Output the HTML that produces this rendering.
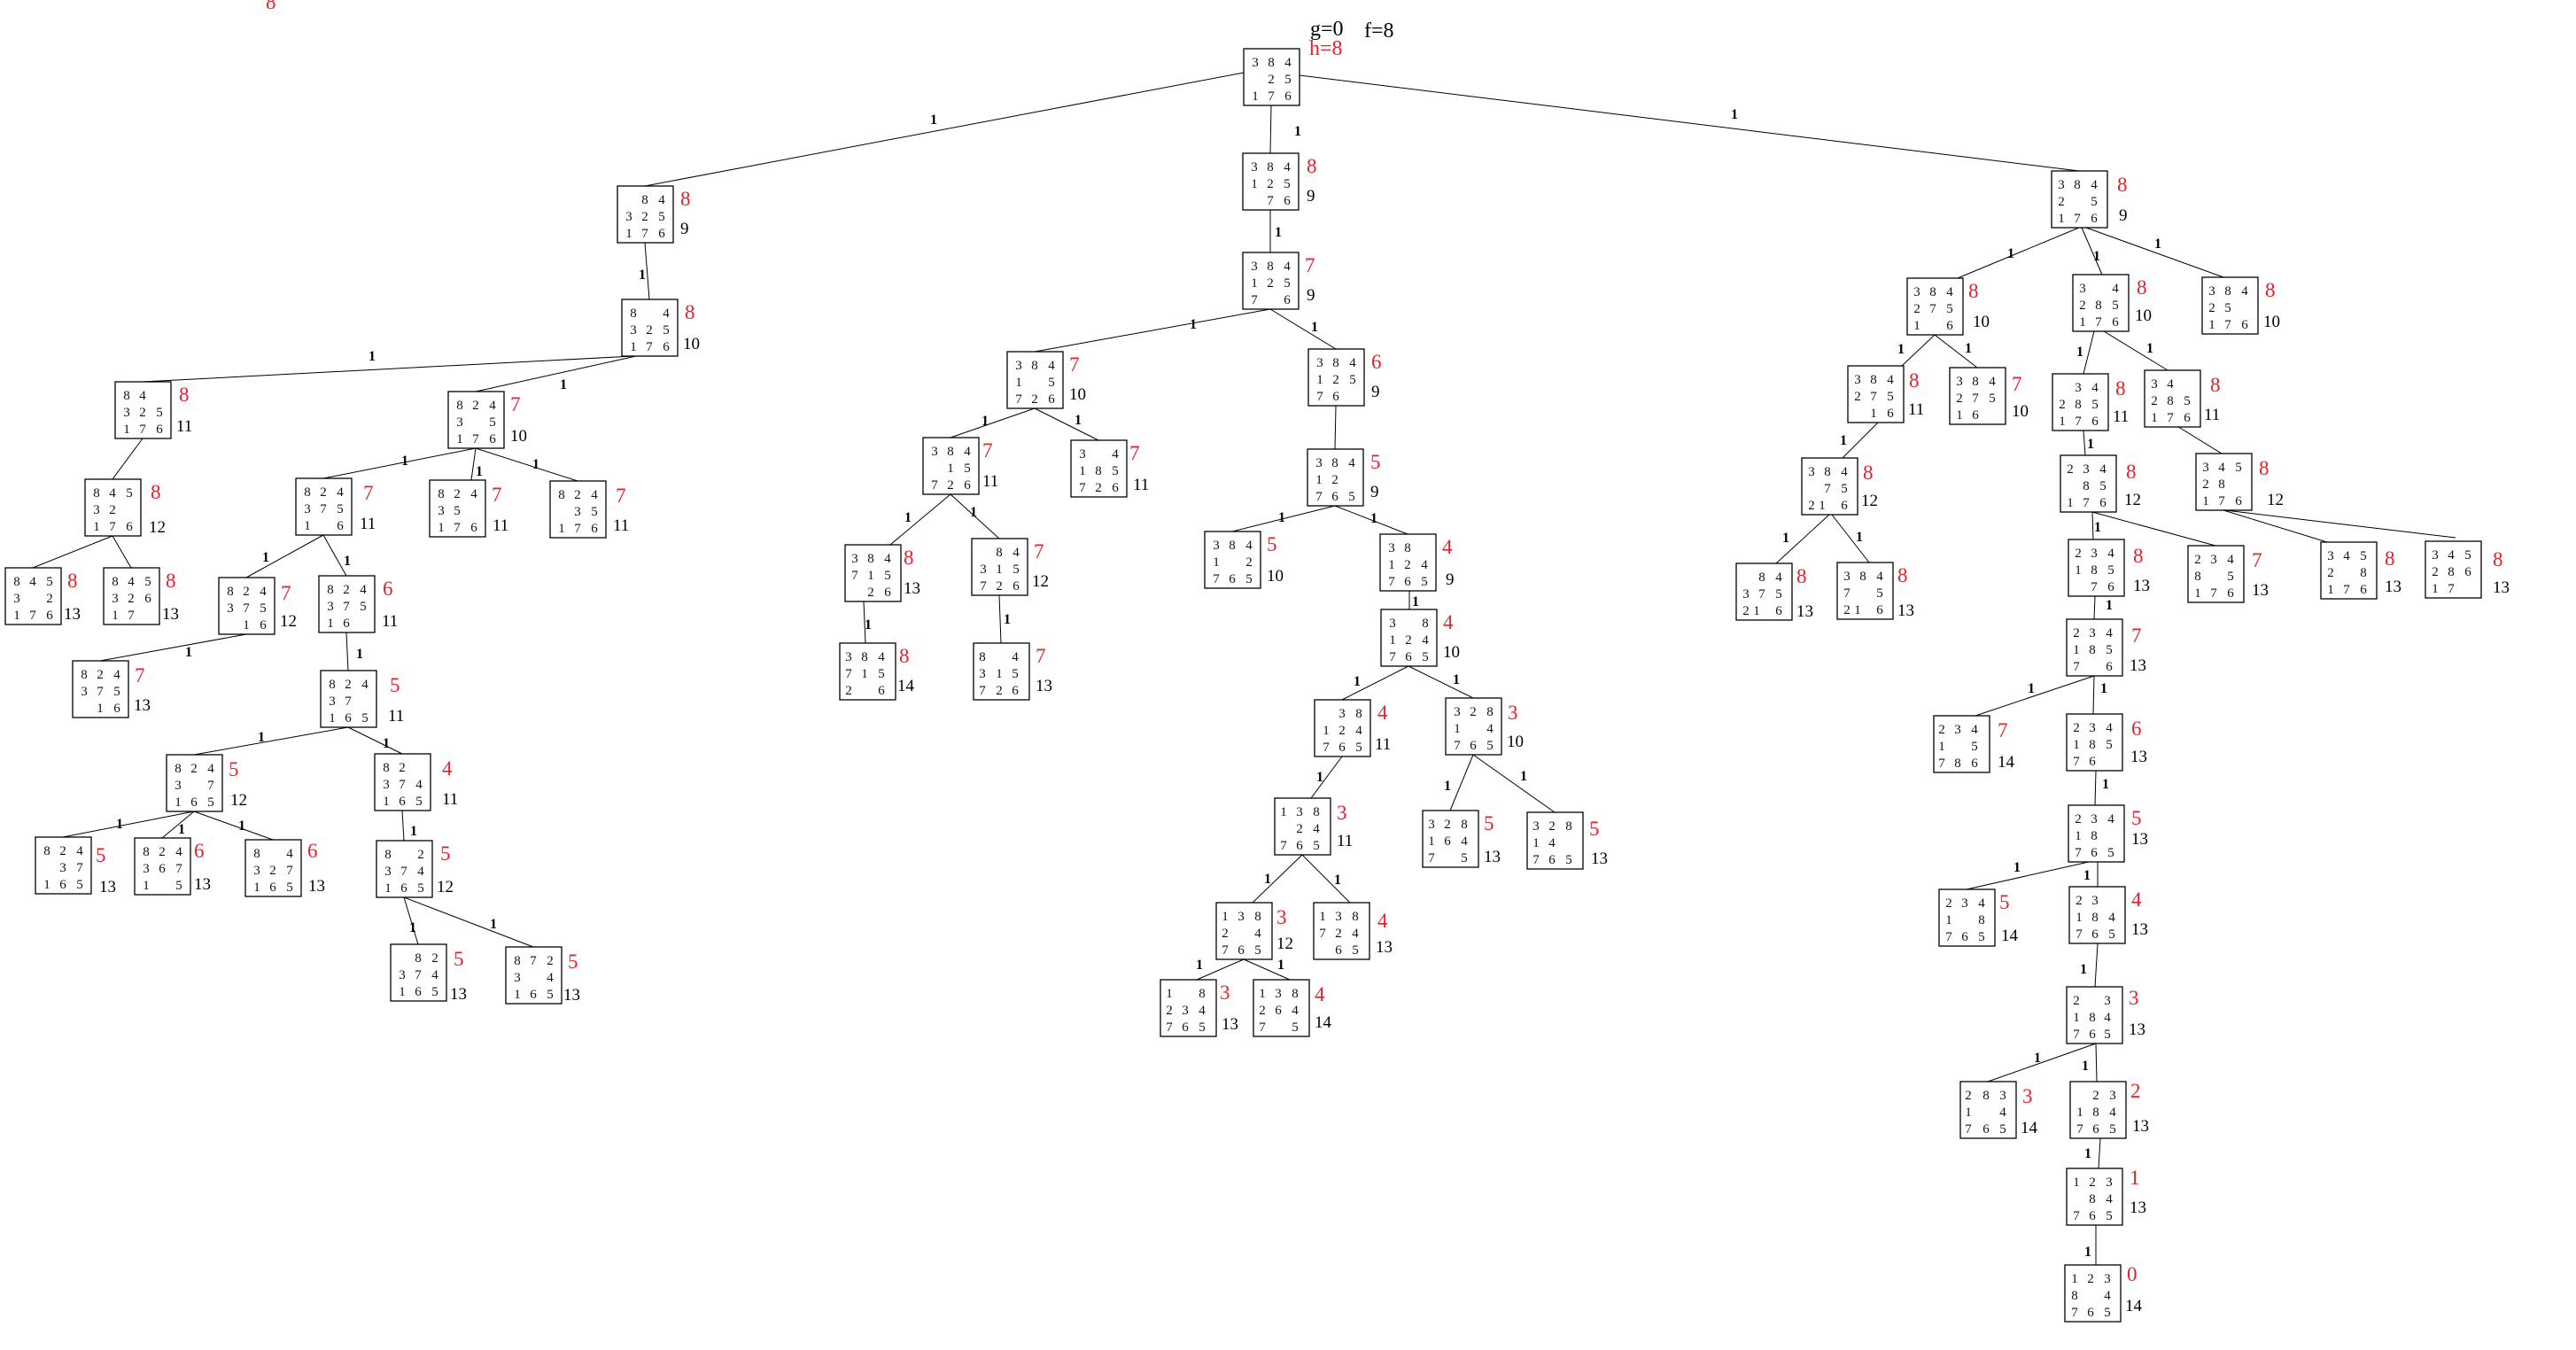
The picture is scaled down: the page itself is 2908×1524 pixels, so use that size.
<!DOCTYPE html>
<html><head><meta charset="utf-8"><style>
html,body{margin:0;padding:0;background:#fff}
svg{display:block}
.b{fill:#fff;stroke:#000;stroke-width:1.3}
.d{font-family:"Liberation Serif",serif;font-size:15px;fill:#111;text-anchor:middle}
.h{font-family:"Liberation Serif",serif;font-size:23px;fill:#e8202a}
.f{font-family:"Liberation Serif",serif;font-size:19px;fill:#000}
.e{stroke:#000;stroke-width:1;fill:none}
.l{font-family:"Liberation Serif",serif;font-size:16px;font-weight:bold;fill:#000;text-anchor:middle}
</style></head><body>
<svg width="2908" height="1524" viewBox="0 0 2908 1524" xmlns="http://www.w3.org/2000/svg">
<text x="300" y="10" style="font-family:'Liberation Serif',serif;font-size:23px;fill:#e8202a">8</text>
<text x="1479" y="40" style="font-family:'Liberation Serif',serif;font-size:24px">g=0</text>
<text x="1540" y="42" style="font-family:'Liberation Serif',serif;font-size:24px">f=8</text>
<text x="1478" y="62" style="font-family:'Liberation Serif',serif;font-size:24px;fill:#e8202a">h=8</text>

<g class="e">
<line x1="1404" y1="82" x2="728" y2="210"/><line x1="1435" y1="119" x2="1434" y2="173"/><line x1="1467" y1="85" x2="2347" y2="193"/>
<line x1="728" y1="274" x2="733" y2="338"/><line x1="715" y1="402" x2="161" y2="431"/><line x1="718" y1="402" x2="537" y2="442"/>
<line x1="161" y1="495" x2="127" y2="541"/><line x1="127" y1="605" x2="37" y2="641"/><line x1="127" y1="605" x2="148" y2="641"/>
<line x1="537" y1="506" x2="365" y2="540"/><line x1="537" y1="506" x2="532" y2="542"/><line x1="537" y1="506" x2="652" y2="543"/>
<line x1="365" y1="604" x2="278" y2="652"/><line x1="365" y1="604" x2="391" y2="650"/><line x1="278" y1="716" x2="113" y2="746"/>
<line x1="391" y1="714" x2="393" y2="757"/><line x1="393" y1="821" x2="219" y2="852"/><line x1="393" y1="821" x2="454" y2="851"/>
<line x1="219" y1="916" x2="71" y2="945"/><line x1="219" y1="916" x2="183" y2="946"/><line x1="219" y1="916" x2="308" y2="948"/>
<line x1="454" y1="915" x2="456" y2="949"/><line x1="456" y1="1013" x2="472" y2="1066"/><line x1="456" y1="1013" x2="602" y2="1069"/>
<line x1="1434" y1="237" x2="1434" y2="285"/><line x1="1434" y1="349" x2="1168" y2="397"/><line x1="1434" y1="349" x2="1508" y2="394"/>
<line x1="1168" y1="461" x2="1073" y2="494"/><line x1="1168" y1="461" x2="1240" y2="497"/><line x1="1508" y1="458" x2="1507" y2="507"/>
<line x1="1073" y1="558" x2="1005" y2="615"/><line x1="1073" y1="558" x2="1128" y2="608"/>
<line x1="1507" y1="571" x2="1391" y2="600"/><line x1="1507" y1="571" x2="1589" y2="603"/>
<line x1="975" y1="679" x2="977" y2="726"/><line x1="1128" y1="672" x2="1130" y2="726"/><line x1="1591" y1="667" x2="1591" y2="688"/>
<line x1="1590" y1="752" x2="1515" y2="790"/><line x1="1590" y1="752" x2="1663" y2="788"/>
<line x1="1515" y1="854" x2="1480" y2="901"/><line x1="1663" y1="852" x2="1637" y2="915"/><line x1="1663" y1="852" x2="1755" y2="917"/>
<line x1="1470" y1="965" x2="1414" y2="1019"/><line x1="1470" y1="965" x2="1524" y2="1019"/>
<line x1="1404" y1="1083" x2="1351" y2="1106"/><line x1="1404" y1="1083" x2="1456" y2="1106"/>
<line x1="2347" y1="257" x2="2210" y2="314"/><line x1="2350" y1="257" x2="2373" y2="310"/><line x1="2355" y1="257" x2="2510" y2="313"/>
<line x1="2184" y1="378" x2="2147" y2="413"/><line x1="2184" y1="378" x2="2232" y2="415"/>
<line x1="2364" y1="374" x2="2352" y2="422"/><line x1="2375" y1="374" x2="2447" y2="418"/>
<line x1="2120" y1="477" x2="2080" y2="517"/><line x1="2352" y1="486" x2="2354" y2="514"/>
<line x1="2456" y1="480" x2="2508" y2="512"/>
<line x1="2065" y1="581" x2="2005" y2="636"/><line x1="2068" y1="581" x2="2110" y2="635"/>
<line x1="2362" y1="578" x2="2363" y2="609"/><line x1="2362" y1="578" x2="2501" y2="616"/>
<line x1="2510" y1="576" x2="2627" y2="612"/><line x1="2512" y1="576" x2="2772" y2="607"/>
<line x1="2365" y1="673" x2="2364" y2="699"/><line x1="2364" y1="763" x2="2230" y2="808"/><line x1="2364" y1="763" x2="2363" y2="806"/>
<line x1="2366" y1="870" x2="2365" y2="909"/><line x1="2358" y1="973" x2="2220" y2="1004"/><line x1="2368" y1="973" x2="2368" y2="1001"/>
<line x1="2368" y1="1065" x2="2365" y2="1114"/><line x1="2366" y1="1178" x2="2244" y2="1221"/><line x1="2366" y1="1178" x2="2367" y2="1221"/>
<line x1="2371" y1="1285" x2="2369" y2="1319"/><line x1="2366" y1="1383" x2="2366" y2="1428"/>
</g>

<g>
<text class="l" x="1054" y="140">1</text><text class="l" x="1465" y="153">1</text><text class="l" x="1958" y="134">1</text>
<text class="l" x="725" y="315">1</text><text class="l" x="420" y="407">1</text><text class="l" x="636" y="439">1</text>
<text class="l" x="457" y="525">1</text><text class="l" x="541" y="537">1</text><text class="l" x="605" y="529">1</text>
<text class="l" x="300" y="634">1</text><text class="l" x="392" y="638">1</text><text class="l" x="213" y="741">1</text>
<text class="l" x="406" y="743">1</text><text class="l" x="295" y="837">1</text><text class="l" x="436" y="844">1</text>
<text class="l" x="135" y="935">1</text><text class="l" x="205" y="941">1</text><text class="l" x="273" y="937">1</text>
<text class="l" x="467" y="943">1</text><text class="l" x="466" y="1052">1</text><text class="l" x="557" y="1048">1</text>
<text class="l" x="1443" y="267">1</text><text class="l" x="1347" y="371">1</text><text class="l" x="1484" y="374">1</text>
<text class="l" x="1112" y="480">1</text><text class="l" x="1217" y="479">1</text>
<text class="l" x="1025" y="589">1</text><text class="l" x="1099" y="583">1</text><text class="l" x="1447" y="589">1</text><text class="l" x="1551" y="590">1</text>
<text class="l" x="980" y="710">1</text><text class="l" x="1137" y="704">1</text><text class="l" x="1598" y="684">1</text>
<text class="l" x="1532" y="774">1</text><text class="l" x="1644" y="772">1</text><text class="l" x="1490" y="882">1</text>
<text class="l" x="1634" y="892">1</text><text class="l" x="1720" y="881">1</text><text class="l" x="1431" y="997">1</text><text class="l" x="1510" y="998">1</text>
<text class="l" x="1354" y="1094">1</text><text class="l" x="1446" y="1094">1</text>
<text class="l" x="2270" y="291">1</text><text class="l" x="2367" y="294">1</text><text class="l" x="2436" y="280">1</text>
<text class="l" x="2146" y="399">1</text><text class="l" x="2222" y="398">1</text><text class="l" x="2348" y="402">1</text><text class="l" x="2427" y="398">1</text>
<text class="l" x="2081" y="502">1</text><text class="l" x="2360" y="506">1</text><text class="l" x="2016" y="612">1</text><text class="l" x="2099" y="611">1</text>
<text class="l" x="2368" y="600">1</text><text class="l" x="2381" y="688">1</text><text class="l" x="2293" y="782">1</text><text class="l" x="2375" y="782">1</text>
<text class="l" x="2377" y="890">1</text><text class="l" x="2277" y="984">1</text><text class="l" x="2356" y="993">1</text><text class="l" x="2352" y="1099">1</text>
<text class="l" x="2300" y="1199">1</text><text class="l" x="2354" y="1208">1</text><text class="l" x="2357" y="1307">1</text><text class="l" x="2357" y="1418">1</text>
</g>

<!-- root -->
<g transform="translate(1404,55)"><rect class="b" width="63" height="64"/><text class="d"><tspan x="13" y="20">3</tspan><tspan x="31" y="20">8</tspan><tspan x="50" y="20">4</tspan><tspan x="31" y="39">2</tspan><tspan x="50" y="39">5</tspan><tspan x="13" y="58">1</tspan><tspan x="31" y="58">7</tspan><tspan x="50" y="58">6</tspan></text></g>

<!-- left subtree -->
<g transform="translate(697,210)"><rect class="b" width="63" height="64"/><text class="d"><tspan x="31" y="20">8</tspan><tspan x="50" y="20">4</tspan><tspan x="13" y="39">3</tspan><tspan x="31" y="39">2</tspan><tspan x="50" y="39">5</tspan><tspan x="13" y="58">1</tspan><tspan x="31" y="58">7</tspan><tspan x="50" y="58">6</tspan></text><text class="h" x="71" y="22">8</text><text class="f" x="71" y="54">9</text></g>
<g transform="translate(702,338)"><rect class="b" width="63" height="64"/><text class="d"><tspan x="13" y="20">8</tspan><tspan x="50" y="20">4</tspan><tspan x="13" y="39">3</tspan><tspan x="31" y="39">2</tspan><tspan x="50" y="39">5</tspan><tspan x="13" y="58">1</tspan><tspan x="31" y="58">7</tspan><tspan x="50" y="58">6</tspan></text><text class="h" x="71" y="22">8</text><text class="f" x="69" y="56">10</text></g>
<g transform="translate(130,431)"><rect class="b" width="63" height="64"/><text class="d"><tspan x="13" y="20">8</tspan><tspan x="31" y="20">4</tspan><tspan x="13" y="39">3</tspan><tspan x="31" y="39">2</tspan><tspan x="50" y="39">5</tspan><tspan x="13" y="58">1</tspan><tspan x="31" y="58">7</tspan><tspan x="50" y="58">6</tspan></text><text class="h" x="72" y="22">8</text><text class="f" x="69" y="56">11</text></g>
<g transform="translate(506,442)"><rect class="b" width="63" height="64"/><text class="d"><tspan x="13" y="20">8</tspan><tspan x="31" y="20">2</tspan><tspan x="50" y="20">4</tspan><tspan x="13" y="39">3</tspan><tspan x="50" y="39">5</tspan><tspan x="13" y="58">1</tspan><tspan x="31" y="58">7</tspan><tspan x="50" y="58">6</tspan></text><text class="h" x="70" y="22">7</text><text class="f" x="70" y="56">10</text></g>
<g transform="translate(96,541)"><rect class="b" width="63" height="64"/><text class="d"><tspan x="13" y="20">8</tspan><tspan x="31" y="20">4</tspan><tspan x="50" y="20">5</tspan><tspan x="13" y="39">3</tspan><tspan x="31" y="39">2</tspan><tspan x="13" y="58">1</tspan><tspan x="31" y="58">7</tspan><tspan x="50" y="58">6</tspan></text><text class="h" x="74" y="22">8</text><text class="f" x="72" y="60">12</text></g>
<g transform="translate(6,641)"><rect class="b" width="63" height="64"/><text class="d"><tspan x="13" y="20">8</tspan><tspan x="31" y="20">4</tspan><tspan x="50" y="20">5</tspan><tspan x="13" y="39">3</tspan><tspan x="50" y="39">2</tspan><tspan x="13" y="58">1</tspan><tspan x="31" y="58">7</tspan><tspan x="50" y="58">6</tspan></text><text class="h" x="70" y="22">8</text><text class="f" x="66" y="58">13</text></g>
<g transform="translate(117,641)"><rect class="b" width="63" height="64"/><text class="d"><tspan x="13" y="20">8</tspan><tspan x="31" y="20">4</tspan><tspan x="50" y="20">5</tspan><tspan x="13" y="39">3</tspan><tspan x="31" y="39">2</tspan><tspan x="50" y="39">6</tspan><tspan x="13" y="58">1</tspan><tspan x="31" y="58">7</tspan></text><text class="h" x="70" y="22">8</text><text class="f" x="66" y="58">13</text></g>
<g transform="translate(334,540)"><rect class="b" width="63" height="64"/><text class="d"><tspan x="13" y="20">8</tspan><tspan x="31" y="20">2</tspan><tspan x="50" y="20">4</tspan><tspan x="13" y="39">3</tspan><tspan x="31" y="39">7</tspan><tspan x="50" y="39">5</tspan><tspan x="13" y="58">1</tspan><tspan x="50" y="58">6</tspan></text><text class="h" x="76" y="24">7</text><text class="f" x="72" y="57">11</text></g>
<g transform="translate(485,542)"><rect class="b" width="63" height="64"/><text class="d"><tspan x="13" y="20">8</tspan><tspan x="31" y="20">2</tspan><tspan x="50" y="20">4</tspan><tspan x="13" y="39">3</tspan><tspan x="31" y="39">5</tspan><tspan x="13" y="58">1</tspan><tspan x="31" y="58">7</tspan><tspan x="50" y="58">6</tspan></text><text class="h" x="70" y="24">7</text><text class="f" x="71" y="57">11</text></g>
<g transform="translate(621,543)"><rect class="b" width="63" height="64"/><text class="d"><tspan x="13" y="20">8</tspan><tspan x="31" y="20">2</tspan><tspan x="50" y="20">4</tspan><tspan x="31" y="39">3</tspan><tspan x="50" y="39">5</tspan><tspan x="13" y="58">1</tspan><tspan x="31" y="58">7</tspan><tspan x="50" y="58">6</tspan></text><text class="h" x="74" y="24">7</text><text class="f" x="71" y="56">11</text></g>
<g transform="translate(247,652)"><rect class="b" width="63" height="64"/><text class="d"><tspan x="13" y="20">8</tspan><tspan x="31" y="20">2</tspan><tspan x="50" y="20">4</tspan><tspan x="13" y="39">3</tspan><tspan x="31" y="39">7</tspan><tspan x="50" y="39">5</tspan><tspan x="31" y="58">1</tspan><tspan x="50" y="58">6</tspan></text><text class="h" x="70" y="25">7</text><text class="f" x="69" y="55">12</text></g>
<g transform="translate(360,650)"><rect class="b" width="63" height="64"/><text class="d"><tspan x="13" y="20">8</tspan><tspan x="31" y="20">2</tspan><tspan x="50" y="20">4</tspan><tspan x="13" y="39">3</tspan><tspan x="31" y="39">7</tspan><tspan x="50" y="39">5</tspan><tspan x="13" y="58">1</tspan><tspan x="31" y="58">6</tspan></text><text class="h" x="72" y="22">6</text><text class="f" x="71" y="57">11</text></g>
<g transform="translate(82,746)"><rect class="b" width="63" height="64"/><text class="d"><tspan x="13" y="20">8</tspan><tspan x="31" y="20">2</tspan><tspan x="50" y="20">4</tspan><tspan x="13" y="39">3</tspan><tspan x="31" y="39">7</tspan><tspan x="50" y="39">5</tspan><tspan x="31" y="58">1</tspan><tspan x="50" y="58">6</tspan></text><text class="h" x="70" y="24">7</text><text class="f" x="69" y="56">13</text></g>
<g transform="translate(362,757)"><rect class="b" width="63" height="64"/><text class="d"><tspan x="13" y="20">8</tspan><tspan x="31" y="20">2</tspan><tspan x="50" y="20">4</tspan><tspan x="13" y="39">3</tspan><tspan x="31" y="39">7</tspan><tspan x="13" y="58">1</tspan><tspan x="31" y="58">6</tspan><tspan x="50" y="58">5</tspan></text><text class="h" x="78" y="24">5</text><text class="f" x="76" y="57">11</text></g>
<g transform="translate(188,852)"><rect class="b" width="63" height="64"/><text class="d"><tspan x="13" y="20">8</tspan><tspan x="31" y="20">2</tspan><tspan x="50" y="20">4</tspan><tspan x="13" y="39">3</tspan><tspan x="50" y="39">7</tspan><tspan x="13" y="58">1</tspan><tspan x="31" y="58">6</tspan><tspan x="50" y="58">5</tspan></text><text class="h" x="70" y="24">5</text><text class="f" x="72" y="57">12</text></g>
<g transform="translate(423,851)"><rect class="b" width="63" height="64"/><text class="d"><tspan x="13" y="20">8</tspan><tspan x="31" y="20">2</tspan><tspan x="13" y="39">3</tspan><tspan x="31" y="39">7</tspan><tspan x="50" y="39">4</tspan><tspan x="13" y="58">1</tspan><tspan x="31" y="58">6</tspan><tspan x="50" y="58">5</tspan></text><text class="h" x="76" y="24">4</text><text class="f" x="76" y="57">11</text></g>
<g transform="translate(40,945)"><rect class="b" width="63" height="64"/><text class="d"><tspan x="13" y="20">8</tspan><tspan x="31" y="20">2</tspan><tspan x="50" y="20">4</tspan><tspan x="31" y="39">3</tspan><tspan x="50" y="39">7</tspan><tspan x="13" y="58">1</tspan><tspan x="31" y="58">6</tspan><tspan x="50" y="58">5</tspan></text><text class="h" x="68" y="28">5</text><text class="f" x="72" y="62">13</text></g>
<g transform="translate(152,946)"><rect class="b" width="63" height="64"/><text class="d"><tspan x="13" y="20">8</tspan><tspan x="31" y="20">2</tspan><tspan x="50" y="20">4</tspan><tspan x="13" y="39">3</tspan><tspan x="31" y="39">6</tspan><tspan x="50" y="39">7</tspan><tspan x="13" y="58">1</tspan><tspan x="50" y="58">5</tspan></text><text class="h" x="67" y="22">6</text><text class="f" x="67" y="58">13</text></g>
<g transform="translate(277,948)"><rect class="b" width="63" height="64"/><text class="d"><tspan x="13" y="20">8</tspan><tspan x="50" y="20">4</tspan><tspan x="13" y="39">3</tspan><tspan x="31" y="39">2</tspan><tspan x="50" y="39">7</tspan><tspan x="13" y="58">1</tspan><tspan x="31" y="58">6</tspan><tspan x="50" y="58">5</tspan></text><text class="h" x="70" y="20">6</text><text class="f" x="71" y="58">13</text></g>
<g transform="translate(425,949)"><rect class="b" width="63" height="64"/><text class="d"><tspan x="13" y="20">8</tspan><tspan x="50" y="20">2</tspan><tspan x="13" y="39">3</tspan><tspan x="31" y="39">7</tspan><tspan x="50" y="39">4</tspan><tspan x="13" y="58">1</tspan><tspan x="31" y="58">6</tspan><tspan x="50" y="58">5</tspan></text><text class="h" x="72" y="22">5</text><text class="f" x="68" y="58">12</text></g>
<g transform="translate(441,1066)"><rect class="b" width="63" height="64"/><text class="d"><tspan x="31" y="20">8</tspan><tspan x="50" y="20">2</tspan><tspan x="13" y="39">3</tspan><tspan x="31" y="39">7</tspan><tspan x="50" y="39">4</tspan><tspan x="13" y="58">1</tspan><tspan x="31" y="58">6</tspan><tspan x="50" y="58">5</tspan></text><text class="h" x="71" y="24">5</text><text class="f" x="67" y="62">13</text></g>
<g transform="translate(571,1069)"><rect class="b" width="63" height="64"/><text class="d"><tspan x="13" y="20">8</tspan><tspan x="31" y="20">7</tspan><tspan x="50" y="20">2</tspan><tspan x="13" y="39">3</tspan><tspan x="50" y="39">4</tspan><tspan x="13" y="58">1</tspan><tspan x="31" y="58">6</tspan><tspan x="50" y="58">5</tspan></text><text class="h" x="70" y="24">5</text><text class="f" x="65" y="60">13</text></g>

<!-- middle subtree -->
<g transform="translate(1403,173)"><rect class="b" width="63" height="64"/><text class="d"><tspan x="13" y="20">3</tspan><tspan x="31" y="20">8</tspan><tspan x="50" y="20">4</tspan><tspan x="13" y="39">1</tspan><tspan x="31" y="39">2</tspan><tspan x="50" y="39">5</tspan><tspan x="31" y="58">7</tspan><tspan x="50" y="58">6</tspan></text><text class="h" x="72" y="22">8</text><text class="f" x="72" y="54">9</text></g>
<g transform="translate(1403,285)"><rect class="b" width="63" height="64"/><text class="d"><tspan x="13" y="20">3</tspan><tspan x="31" y="20">8</tspan><tspan x="50" y="20">4</tspan><tspan x="13" y="39">1</tspan><tspan x="31" y="39">2</tspan><tspan x="50" y="39">5</tspan><tspan x="13" y="58">7</tspan><tspan x="50" y="58">6</tspan></text><text class="h" x="70" y="22">7</text><text class="f" x="72" y="54">9</text></g>
<g transform="translate(1137,397)"><rect class="b" width="63" height="64"/><text class="d"><tspan x="13" y="20">3</tspan><tspan x="31" y="20">8</tspan><tspan x="50" y="20">4</tspan><tspan x="13" y="39">1</tspan><tspan x="50" y="39">5</tspan><tspan x="13" y="58">7</tspan><tspan x="31" y="58">2</tspan><tspan x="50" y="58">6</tspan></text><text class="h" x="70" y="22">7</text><text class="f" x="70" y="54">10</text></g>
<g transform="translate(1477,394)"><rect class="b" width="63" height="64"/><text class="d"><tspan x="13" y="20">3</tspan><tspan x="31" y="20">8</tspan><tspan x="50" y="20">4</tspan><tspan x="13" y="39">1</tspan><tspan x="31" y="39">2</tspan><tspan x="50" y="39">5</tspan><tspan x="13" y="58">7</tspan><tspan x="31" y="58">6</tspan></text><text class="h" x="71" y="22">6</text><text class="f" x="71" y="54">9</text></g>
<g transform="translate(1042,494)"><rect class="b" width="63" height="64"/><text class="d"><tspan x="13" y="20">3</tspan><tspan x="31" y="20">8</tspan><tspan x="50" y="20">4</tspan><tspan x="31" y="39">1</tspan><tspan x="50" y="39">5</tspan><tspan x="13" y="58">7</tspan><tspan x="31" y="58">2</tspan><tspan x="50" y="58">6</tspan></text><text class="h" x="67" y="22">7</text><text class="f" x="67" y="55">11</text></g>
<g transform="translate(1209,497)"><rect class="b" width="63" height="64"/><text class="d"><tspan x="13" y="20">3</tspan><tspan x="50" y="20">4</tspan><tspan x="13" y="39">1</tspan><tspan x="31" y="39">8</tspan><tspan x="50" y="39">5</tspan><tspan x="13" y="58">7</tspan><tspan x="31" y="58">2</tspan><tspan x="50" y="58">6</tspan></text><text class="h" x="66" y="22">7</text><text class="f" x="70" y="56">11</text></g>
<g transform="translate(1476,507)"><rect class="b" width="63" height="64"/><text class="d"><tspan x="13" y="20">3</tspan><tspan x="31" y="20">8</tspan><tspan x="50" y="20">4</tspan><tspan x="13" y="39">1</tspan><tspan x="31" y="39">2</tspan><tspan x="13" y="58">7</tspan><tspan x="31" y="58">6</tspan><tspan x="50" y="58">5</tspan></text><text class="h" x="71" y="22">5</text><text class="f" x="71" y="54">9</text></g>
<g transform="translate(954,615)"><rect class="b" width="63" height="64"/><text class="d"><tspan x="11" y="20">3</tspan><tspan x="29" y="20">8</tspan><tspan x="48" y="20">4</tspan><tspan x="11" y="39">7</tspan><tspan x="29" y="39">1</tspan><tspan x="48" y="39">5</tspan><tspan x="29" y="58">2</tspan><tspan x="48" y="58">6</tspan></text><text class="h" x="66" y="22">8</text><text class="f" x="66" y="55">13</text></g>
<g transform="translate(1097,608)"><rect class="b" width="63" height="64"/><text class="d"><tspan x="31" y="20">8</tspan><tspan x="50" y="20">4</tspan><tspan x="13" y="39">3</tspan><tspan x="31" y="39">1</tspan><tspan x="50" y="39">5</tspan><tspan x="13" y="58">7</tspan><tspan x="31" y="58">2</tspan><tspan x="50" y="58">6</tspan></text><text class="h" x="70" y="22">7</text><text class="f" x="68" y="54">12</text></g>
<g transform="translate(1360,600)"><rect class="b" width="63" height="64"/><text class="d"><tspan x="13" y="20">3</tspan><tspan x="31" y="20">8</tspan><tspan x="50" y="20">4</tspan><tspan x="13" y="39">1</tspan><tspan x="50" y="39">2</tspan><tspan x="13" y="58">7</tspan><tspan x="31" y="58">6</tspan><tspan x="50" y="58">5</tspan></text><text class="h" x="70" y="22">5</text><text class="f" x="70" y="56">10</text></g>
<g transform="translate(1558,603)"><rect class="b" width="63" height="64"/><text class="d"><tspan x="13" y="20">3</tspan><tspan x="31" y="20">8</tspan><tspan x="13" y="39">1</tspan><tspan x="31" y="39">2</tspan><tspan x="50" y="39">4</tspan><tspan x="13" y="58">7</tspan><tspan x="31" y="58">6</tspan><tspan x="50" y="58">5</tspan></text><text class="h" x="70" y="22">4</text><text class="f" x="74" y="57">9</text></g>
<g transform="translate(1559,688)"><rect class="b" width="63" height="64"/><text class="d"><tspan x="13" y="20">3</tspan><tspan x="50" y="20">8</tspan><tspan x="13" y="39">1</tspan><tspan x="31" y="39">2</tspan><tspan x="50" y="39">4</tspan><tspan x="13" y="58">7</tspan><tspan x="31" y="58">6</tspan><tspan x="50" y="58">5</tspan></text><text class="h" x="70" y="22">4</text><text class="f" x="70" y="54">10</text></g>
<g transform="translate(948,726)"><rect class="b" width="63" height="64"/><text class="d"><tspan x="10" y="20">3</tspan><tspan x="28" y="20">8</tspan><tspan x="47" y="20">4</tspan><tspan x="10" y="39">7</tspan><tspan x="28" y="39">1</tspan><tspan x="47" y="39">5</tspan><tspan x="10" y="58">2</tspan><tspan x="47" y="58">6</tspan></text><text class="h" x="67" y="22">8</text><text class="f" x="65" y="54">14</text></g>
<g transform="translate(1099,726)"><rect class="b" width="63" height="64"/><text class="d"><tspan x="10" y="20">8</tspan><tspan x="47" y="20">4</tspan><tspan x="10" y="39">3</tspan><tspan x="29" y="39">1</tspan><tspan x="47" y="39">5</tspan><tspan x="10" y="58">7</tspan><tspan x="29" y="58">2</tspan><tspan x="47" y="58">6</tspan></text><text class="h" x="70" y="22">7</text><text class="f" x="70" y="54">13</text></g>
<g transform="translate(1484,790)"><rect class="b" width="63" height="64"/><text class="d"><tspan x="31" y="20">3</tspan><tspan x="50" y="20">8</tspan><tspan x="13" y="39">1</tspan><tspan x="31" y="39">2</tspan><tspan x="50" y="39">4</tspan><tspan x="13" y="58">7</tspan><tspan x="31" y="58">6</tspan><tspan x="50" y="58">5</tspan></text><text class="h" x="71" y="22">4</text><text class="f" x="68" y="56">11</text></g>
<g transform="translate(1632,788)"><rect class="b" width="63" height="64"/><text class="d"><tspan x="13" y="20">3</tspan><tspan x="31" y="20">2</tspan><tspan x="50" y="20">8</tspan><tspan x="13" y="39">1</tspan><tspan x="50" y="39">4</tspan><tspan x="13" y="58">7</tspan><tspan x="31" y="58">6</tspan><tspan x="50" y="58">5</tspan></text><text class="h" x="70" y="24">3</text><text class="f" x="69" y="55">10</text></g>
<g transform="translate(1439,901)"><rect class="b" width="63" height="64"/><text class="d"><tspan x="10" y="20">1</tspan><tspan x="28" y="20">3</tspan><tspan x="47" y="20">8</tspan><tspan x="28" y="39">2</tspan><tspan x="47" y="39">4</tspan><tspan x="10" y="58">7</tspan><tspan x="28" y="58">6</tspan><tspan x="47" y="58">5</tspan></text><text class="h" x="70" y="24">3</text><text class="f" x="70" y="54">11</text></g>
<g transform="translate(1606,915)"><rect class="b" width="63" height="64"/><text class="d"><tspan x="10" y="20">3</tspan><tspan x="28" y="20">2</tspan><tspan x="47" y="20">8</tspan><tspan x="10" y="39">1</tspan><tspan x="28" y="39">6</tspan><tspan x="47" y="39">4</tspan><tspan x="10" y="58">7</tspan><tspan x="47" y="58">5</tspan></text><text class="h" x="69" y="22">5</text><text class="f" x="69" y="58">13</text></g>
<g transform="translate(1724,917)"><rect class="b" width="63" height="64"/><text class="d"><tspan x="10" y="20">3</tspan><tspan x="28" y="20">2</tspan><tspan x="47" y="20">8</tspan><tspan x="10" y="39">1</tspan><tspan x="28" y="39">4</tspan><tspan x="10" y="58">7</tspan><tspan x="28" y="58">6</tspan><tspan x="47" y="58">5</tspan></text><text class="h" x="70" y="26">5</text><text class="f" x="72" y="58">13</text></g>
<g transform="translate(1373,1019)"><rect class="b" width="63" height="64"/><text class="d"><tspan x="10" y="20">1</tspan><tspan x="28" y="20">3</tspan><tspan x="47" y="20">8</tspan><tspan x="10" y="39">2</tspan><tspan x="47" y="39">4</tspan><tspan x="10" y="58">7</tspan><tspan x="28" y="58">6</tspan><tspan x="47" y="58">5</tspan></text><text class="h" x="68" y="24">3</text><text class="f" x="68" y="52">12</text></g>
<g transform="translate(1483,1019)"><rect class="b" width="63" height="64"/><text class="d"><tspan x="10" y="20">1</tspan><tspan x="28" y="20">3</tspan><tspan x="47" y="20">8</tspan><tspan x="10" y="39">7</tspan><tspan x="28" y="39">2</tspan><tspan x="47" y="39">4</tspan><tspan x="28" y="58">6</tspan><tspan x="47" y="58">5</tspan></text><text class="h" x="72" y="28">4</text><text class="f" x="70" y="56">13</text></g>
<g transform="translate(1310,1106)"><rect class="b" width="63" height="64"/><text class="d"><tspan x="10" y="20">1</tspan><tspan x="47" y="20">8</tspan><tspan x="10" y="39">2</tspan><tspan x="28" y="39">3</tspan><tspan x="47" y="39">4</tspan><tspan x="10" y="58">7</tspan><tspan x="28" y="58">6</tspan><tspan x="47" y="58">5</tspan></text><text class="h" x="67" y="22">3</text><text class="f" x="69" y="56">13</text></g>
<g transform="translate(1415,1106)"><rect class="b" width="63" height="64"/><text class="d"><tspan x="10" y="20">1</tspan><tspan x="28" y="20">3</tspan><tspan x="47" y="20">8</tspan><tspan x="10" y="39">2</tspan><tspan x="28" y="39">6</tspan><tspan x="47" y="39">4</tspan><tspan x="10" y="58">7</tspan><tspan x="47" y="58">5</tspan></text><text class="h" x="69" y="24">4</text><text class="f" x="69" y="54">14</text></g>

<!-- right subtree -->
<g transform="translate(2316,193)"><rect class="b" width="63" height="64"/><text class="d"><tspan x="11" y="20">3</tspan><tspan x="29" y="20">8</tspan><tspan x="48" y="20">4</tspan><tspan x="11" y="39">2</tspan><tspan x="48" y="39">5</tspan><tspan x="11" y="58">1</tspan><tspan x="29" y="58">7</tspan><tspan x="48" y="58">6</tspan></text><text class="h" x="74" y="23">8</text><text class="f" x="76" y="56">9</text></g>
<g transform="translate(2153,314)"><rect class="b" width="63" height="64"/><text class="d"><tspan x="11" y="20">3</tspan><tspan x="29" y="20">8</tspan><tspan x="48" y="20">4</tspan><tspan x="11" y="39">2</tspan><tspan x="29" y="39">7</tspan><tspan x="48" y="39">5</tspan><tspan x="11" y="58">1</tspan><tspan x="48" y="58">6</tspan></text><text class="h" x="69" y="22">8</text><text class="f" x="74" y="55">10</text></g>
<g transform="translate(2340,310)"><rect class="b" width="63" height="64"/><text class="d"><tspan x="11" y="20">3</tspan><tspan x="48" y="20">4</tspan><tspan x="11" y="39">2</tspan><tspan x="29" y="39">8</tspan><tspan x="48" y="39">5</tspan><tspan x="11" y="58">1</tspan><tspan x="29" y="58">7</tspan><tspan x="48" y="58">6</tspan></text><text class="h" x="72" y="22">8</text><text class="f" x="70" y="52">10</text></g>
<g transform="translate(2486,313)"><rect class="b" width="63" height="64"/><text class="d"><tspan x="11" y="20">3</tspan><tspan x="29" y="20">8</tspan><tspan x="48" y="20">4</tspan><tspan x="11" y="39">2</tspan><tspan x="29" y="39">5</tspan><tspan x="11" y="58">1</tspan><tspan x="29" y="58">7</tspan><tspan x="48" y="58">6</tspan></text><text class="h" x="71" y="22">8</text><text class="f" x="69" y="56">10</text></g>
<g transform="translate(2086,413)"><rect class="b" width="63" height="64"/><text class="d"><tspan x="11" y="20">3</tspan><tspan x="29" y="20">8</tspan><tspan x="48" y="20">4</tspan><tspan x="11" y="39">2</tspan><tspan x="29" y="39">7</tspan><tspan x="48" y="39">5</tspan><tspan x="29" y="58">1</tspan><tspan x="48" y="58">6</tspan></text><text class="h" x="69" y="24">8</text><text class="f" x="68" y="55">11</text></g>
<g transform="translate(2201,415)"><rect class="b" width="63" height="64"/><text class="d"><tspan x="11" y="20">3</tspan><tspan x="29" y="20">8</tspan><tspan x="48" y="20">4</tspan><tspan x="11" y="39">2</tspan><tspan x="29" y="39">7</tspan><tspan x="48" y="39">5</tspan><tspan x="11" y="58">1</tspan><tspan x="29" y="58">6</tspan></text><text class="h" x="70" y="26">7</text><text class="f" x="70" y="55">10</text></g>
<g transform="translate(2317,422)"><rect class="b" width="63" height="64"/><text class="d"><tspan x="29" y="20">3</tspan><tspan x="48" y="20">4</tspan><tspan x="11" y="39">2</tspan><tspan x="29" y="39">8</tspan><tspan x="48" y="39">5</tspan><tspan x="11" y="58">1</tspan><tspan x="29" y="58">7</tspan><tspan x="48" y="58">6</tspan></text><text class="h" x="71" y="24">8</text><text class="f" x="68" y="54">11</text></g>
<g transform="translate(2421,418)"><rect class="b" width="63" height="64"/><text class="d"><tspan x="11" y="20">3</tspan><tspan x="29" y="20">4</tspan><tspan x="11" y="39">2</tspan><tspan x="29" y="39">8</tspan><tspan x="48" y="39">5</tspan><tspan x="11" y="58">1</tspan><tspan x="29" y="58">7</tspan><tspan x="48" y="58">6</tspan></text><text class="h" x="74" y="24">8</text><text class="f" x="67" y="56">11</text></g>
<g transform="translate(2034,517)"><rect class="b" width="63" height="64"/><text class="d"><tspan x="11" y="20">3</tspan><tspan x="29" y="20">8</tspan><tspan x="48" y="20">4</tspan><tspan x="29" y="39">7</tspan><tspan x="48" y="39">5</tspan><tspan x="11" y="58">2</tspan><tspan x="23" y="58">1</tspan><tspan x="48" y="58">6</tspan></text><text class="h" x="69" y="24">8</text><text class="f" x="67" y="54">12</text></g>
<g transform="translate(2326,514)"><rect class="b" width="63" height="64"/><text class="d"><tspan x="11" y="20">2</tspan><tspan x="29" y="20">3</tspan><tspan x="48" y="20">4</tspan><tspan x="29" y="39">8</tspan><tspan x="48" y="39">5</tspan><tspan x="11" y="58">1</tspan><tspan x="29" y="58">7</tspan><tspan x="48" y="58">6</tspan></text><text class="h" x="74" y="26">8</text><text class="f" x="72" y="56">12</text></g>
<g transform="translate(2479,512)"><rect class="b" width="63" height="64"/><text class="d"><tspan x="11" y="20">3</tspan><tspan x="29" y="20">4</tspan><tspan x="48" y="20">5</tspan><tspan x="11" y="39">2</tspan><tspan x="29" y="39">8</tspan><tspan x="11" y="58">1</tspan><tspan x="29" y="58">7</tspan><tspan x="48" y="58">6</tspan></text><text class="h" x="71" y="24">8</text><text class="f" x="80" y="58">12</text></g>
<g transform="translate(1960,636)"><rect class="b" width="63" height="64"/><text class="d"><tspan x="29" y="20">8</tspan><tspan x="48" y="20">4</tspan><tspan x="11" y="39">3</tspan><tspan x="29" y="39">7</tspan><tspan x="48" y="39">5</tspan><tspan x="11" y="58">2</tspan><tspan x="23" y="58">1</tspan><tspan x="48" y="58">6</tspan></text><text class="h" x="68" y="22">8</text><text class="f" x="68" y="60">13</text></g>
<g transform="translate(2074,635)"><rect class="b" width="63" height="64"/><text class="d"><tspan x="11" y="20">3</tspan><tspan x="29" y="20">8</tspan><tspan x="48" y="20">4</tspan><tspan x="11" y="39">7</tspan><tspan x="48" y="39">5</tspan><tspan x="11" y="58">2</tspan><tspan x="23" y="58">1</tspan><tspan x="48" y="58">6</tspan></text><text class="h" x="68" y="22">8</text><text class="f" x="68" y="60">13</text></g>
<g transform="translate(2335,609)"><rect class="b" width="63" height="64"/><text class="d"><tspan x="11" y="20">2</tspan><tspan x="29" y="20">3</tspan><tspan x="48" y="20">4</tspan><tspan x="11" y="39">1</tspan><tspan x="29" y="39">8</tspan><tspan x="48" y="39">5</tspan><tspan x="29" y="58">7</tspan><tspan x="48" y="58">6</tspan></text><text class="h" x="73" y="26">8</text><text class="f" x="73" y="58">13</text></g>
<g transform="translate(2470,616)"><rect class="b" width="63" height="64"/><text class="d"><tspan x="11" y="20">2</tspan><tspan x="29" y="20">3</tspan><tspan x="48" y="20">4</tspan><tspan x="11" y="39">8</tspan><tspan x="48" y="39">5</tspan><tspan x="11" y="58">1</tspan><tspan x="29" y="58">7</tspan><tspan x="48" y="58">6</tspan></text><text class="h" x="72" y="24">7</text><text class="f" x="72" y="56">13</text></g>
<g transform="translate(2620,612)"><rect class="b" width="63" height="64"/><text class="d"><tspan x="11" y="20">3</tspan><tspan x="29" y="20">4</tspan><tspan x="48" y="20">5</tspan><tspan x="11" y="39">2</tspan><tspan x="48" y="39">8</tspan><tspan x="11" y="58">1</tspan><tspan x="29" y="58">7</tspan><tspan x="48" y="58">6</tspan></text><text class="h" x="72" y="26">8</text><text class="f" x="72" y="56">13</text></g>
<g transform="translate(2738,611)"><rect class="b" width="63" height="64"/><text class="d"><tspan x="11" y="20">3</tspan><tspan x="29" y="20">4</tspan><tspan x="48" y="20">5</tspan><tspan x="11" y="39">2</tspan><tspan x="29" y="39">8</tspan><tspan x="48" y="39">6</tspan><tspan x="11" y="58">1</tspan><tspan x="29" y="58">7</tspan></text><text class="h" x="76" y="28">8</text><text class="f" x="76" y="58">13</text></g>
<g transform="translate(2333,699)"><rect class="b" width="63" height="64"/><text class="d"><tspan x="11" y="20">2</tspan><tspan x="29" y="20">3</tspan><tspan x="48" y="20">4</tspan><tspan x="11" y="39">1</tspan><tspan x="29" y="39">8</tspan><tspan x="48" y="39">5</tspan><tspan x="11" y="58">7</tspan><tspan x="48" y="58">6</tspan></text><text class="h" x="73" y="26">7</text><text class="f" x="71" y="58">13</text></g>
<g transform="translate(2183,808)"><rect class="b" width="63" height="64"/><text class="d"><tspan x="9" y="20">2</tspan><tspan x="27" y="20">3</tspan><tspan x="46" y="20">4</tspan><tspan x="9" y="39">1</tspan><tspan x="46" y="39">5</tspan><tspan x="9" y="58">7</tspan><tspan x="27" y="58">8</tspan><tspan x="46" y="58">6</tspan></text><text class="h" x="72" y="24">7</text><text class="f" x="72" y="58">14</text></g>
<g transform="translate(2333,806)"><rect class="b" width="63" height="64"/><text class="d"><tspan x="11" y="20">2</tspan><tspan x="29" y="20">3</tspan><tspan x="48" y="20">4</tspan><tspan x="11" y="39">1</tspan><tspan x="29" y="39">8</tspan><tspan x="48" y="39">5</tspan><tspan x="11" y="58">7</tspan><tspan x="29" y="58">6</tspan></text><text class="h" x="73" y="24">6</text><text class="f" x="72" y="54">13</text></g>
<g transform="translate(2335,909)"><rect class="b" width="63" height="64"/><text class="d"><tspan x="11" y="20">2</tspan><tspan x="29" y="20">3</tspan><tspan x="48" y="20">4</tspan><tspan x="11" y="39">1</tspan><tspan x="29" y="39">8</tspan><tspan x="11" y="58">7</tspan><tspan x="29" y="58">6</tspan><tspan x="48" y="58">5</tspan></text><text class="h" x="71" y="22">5</text><text class="f" x="71" y="44">13</text></g>
<g transform="translate(2189,1004)"><rect class="b" width="63" height="64"/><text class="d"><tspan x="11" y="20">2</tspan><tspan x="29" y="20">3</tspan><tspan x="48" y="20">4</tspan><tspan x="11" y="39">1</tspan><tspan x="48" y="39">8</tspan><tspan x="11" y="58">7</tspan><tspan x="29" y="58">6</tspan><tspan x="48" y="58">5</tspan></text><text class="h" x="68" y="22">5</text><text class="f" x="70" y="58">14</text></g>
<g transform="translate(2336,1001)"><rect class="b" width="63" height="64"/><text class="d"><tspan x="11" y="20">2</tspan><tspan x="29" y="20">3</tspan><tspan x="11" y="39">1</tspan><tspan x="29" y="39">8</tspan><tspan x="48" y="39">4</tspan><tspan x="11" y="58">7</tspan><tspan x="29" y="58">6</tspan><tspan x="48" y="58">5</tspan></text><text class="h" x="70" y="22">4</text><text class="f" x="70" y="54">13</text></g>
<g transform="translate(2333,1114)"><rect class="b" width="63" height="64"/><text class="d"><tspan x="11" y="20">2</tspan><tspan x="46" y="20">3</tspan><tspan x="11" y="39">1</tspan><tspan x="29" y="39">8</tspan><tspan x="46" y="39">4</tspan><tspan x="11" y="58">7</tspan><tspan x="29" y="58">6</tspan><tspan x="46" y="58">5</tspan></text><text class="h" x="70" y="20">3</text><text class="f" x="70" y="54">13</text></g>
<g transform="translate(2213,1221)"><rect class="b" width="63" height="64"/><text class="d"><tspan x="9" y="20">2</tspan><tspan x="29" y="20">8</tspan><tspan x="48" y="20">3</tspan><tspan x="9" y="39">1</tspan><tspan x="48" y="39">4</tspan><tspan x="9" y="58">7</tspan><tspan x="29" y="58">6</tspan><tspan x="48" y="58">5</tspan></text><text class="h" x="70" y="24">3</text><text class="f" x="68" y="58">14</text></g>
<g transform="translate(2337,1221)"><rect class="b" width="63" height="64"/><text class="d"><tspan x="29" y="20">2</tspan><tspan x="48" y="20">3</tspan><tspan x="11" y="39">1</tspan><tspan x="29" y="39">8</tspan><tspan x="48" y="39">4</tspan><tspan x="11" y="58">7</tspan><tspan x="29" y="58">6</tspan><tspan x="48" y="58">5</tspan></text><text class="h" x="68" y="18">2</text><text class="f" x="70" y="56">13</text></g>
<g transform="translate(2333,1319)"><rect class="b" width="63" height="64"/><text class="d"><tspan x="11" y="20">1</tspan><tspan x="29" y="20">2</tspan><tspan x="48" y="20">3</tspan><tspan x="29" y="39">8</tspan><tspan x="48" y="39">4</tspan><tspan x="11" y="58">7</tspan><tspan x="29" y="58">6</tspan><tspan x="48" y="58">5</tspan></text><text class="h" x="71" y="18">1</text><text class="f" x="71" y="50">13</text></g>
<g transform="translate(2331,1428)"><rect class="b" width="63" height="64"/><text class="d"><tspan x="11" y="20">1</tspan><tspan x="29" y="20">2</tspan><tspan x="48" y="20">3</tspan><tspan x="11" y="39">8</tspan><tspan x="48" y="39">4</tspan><tspan x="11" y="58">7</tspan><tspan x="29" y="58">6</tspan><tspan x="48" y="58">5</tspan></text><text class="h" x="70" y="18">0</text><text class="f" x="68" y="52">14</text></g>
</svg>
</body></html>
